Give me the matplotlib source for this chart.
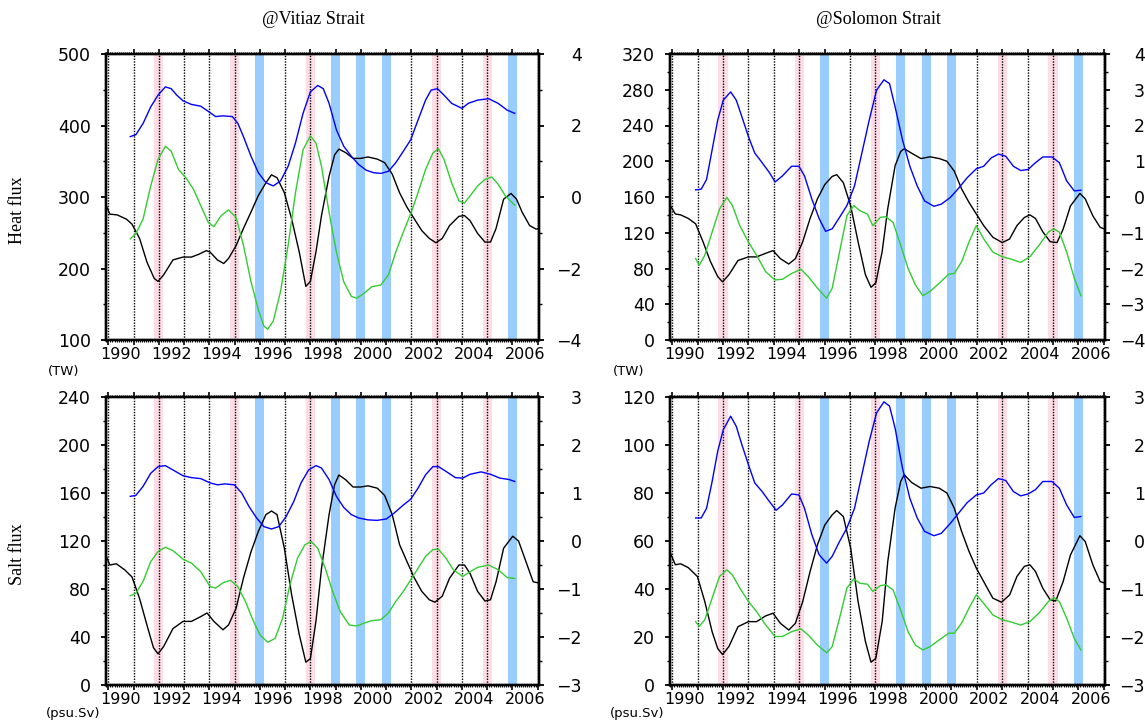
import matplotlib
matplotlib.use("Agg")
import matplotlib.pyplot as plt
from matplotlib.ticker import MultipleLocator, FixedLocator

# ---------------- data ----------------
mark_years = list(range(1990, 2008))
el_nino_years = [1992, 1995, 1998, 2003, 2005]
la_nina_years = [1996, 1999, 2000, 2001, 2006]
year_labels = ["1990", "1992", "1994", "1996", "1998", "2000", "2002", "2004", "2006"]
year_label_pos = [1990.5, 1992.5, 1994.5, 1996.5, 1998.5, 2000.5, 2002.5, 2004.5, 2006.5]

# Vitiaz heat flux (TW), left axis
vit_heat_t = [1989.92, 1990.06, 1990.35, 1990.72, 1990.94, 1991.24, 1991.53, 1991.82, 1991.97, 1992.19,
              1992.56, 1992.96, 1993.29, 1993.59, 1993.88, 1994.03, 1994.32, 1994.57, 1994.76, 1995.06,
              1995.35, 1995.65, 1995.94, 1996.24, 1996.46, 1996.68, 1996.97, 1997.26, 1997.56, 1997.82,
              1998.0, 1998.22, 1998.44, 1998.74, 1998.96, 1999.13, 1999.40, 1999.69, 1999.99, 2000.28,
              2000.65, 2000.94, 2001.24, 2001.53, 2001.82, 2002.12, 2002.41, 2002.71, 2002.97, 2003.22,
              2003.51, 2003.88, 2004.10, 2004.32, 2004.62, 2004.91, 2005.13, 2005.35, 2005.65, 2005.94,
              2006.16, 2006.38, 2006.68, 2006.94, 2007.04]
vit_heat = [288, 276, 275, 269, 262, 242, 209, 186, 182, 191,
            212, 216, 216, 220, 225, 223, 212, 207, 214, 232,
            256, 279, 302, 320, 331, 327, 306, 269, 223, 175,
            182, 223, 274, 329, 359, 367, 362, 354, 354, 356,
            353, 348, 332, 306, 286, 269, 253, 242, 236, 242,
            260, 273, 274, 267, 249, 237, 237, 256, 297, 305,
            297, 279, 260, 255, 256]

# Vitiaz index curves (right axis)
vit_heat_blue_t = [1990.87, 1991.09, 1991.38, 1991.68, 1991.97, 1992.26, 1992.49, 1992.71, 1992.96, 1993.29,
                   1993.66, 1993.97, 1994.25, 1994.54, 1994.91, 1995.13, 1995.35, 1995.65, 1995.94, 1996.24,
                   1996.53, 1996.82, 1997.12, 1997.41, 1997.71, 1998.0, 1998.29, 1998.51, 1998.74, 1999.03,
                   1999.32, 1999.62, 1999.91, 2000.21, 2000.50, 2000.79, 2001.09, 2001.38, 2001.68, 2001.97,
                   2002.26, 2002.56, 2002.78, 2003.03, 2003.29, 2003.59, 2004.0, 2004.25, 2004.62, 2005.06,
                   2005.43, 2005.79, 2006.09]
vit_heat_blue = [1.69, 1.74, 2.06, 2.52, 2.85, 3.08, 3.03, 2.85, 2.69, 2.59,
                 2.54, 2.39, 2.25, 2.27, 2.25, 2.06, 1.69, 1.14, 0.68, 0.40,
                 0.31, 0.45, 0.86, 1.51, 2.34, 2.94, 3.12, 3.03, 2.62, 1.88,
                 1.42, 1.14, 0.91, 0.75, 0.68, 0.66, 0.72, 0.96, 1.28, 1.60,
                 2.15, 2.71, 2.99, 3.03, 2.85, 2.62, 2.48, 2.62, 2.71, 2.75,
                 2.62, 2.43, 2.34]
vit_heat_green_t = [1990.87, 1991.09, 1991.38, 1991.68, 1991.97, 1992.26, 1992.49, 1992.78, 1993.07, 1993.37,
                    1993.66, 1993.96, 1994.18, 1994.47, 1994.76, 1995.06, 1995.35, 1995.65, 1995.94, 1996.16,
                    1996.31, 1996.53, 1996.82, 1997.12, 1997.41, 1997.71, 1998.0, 1998.22, 1998.44, 1998.74,
                    1999.03, 1999.32, 1999.62, 1999.84, 2000.13, 2000.43, 2000.79, 2001.09, 2001.38, 2001.68,
                    2001.97, 2002.26, 2002.56, 2002.85, 2003.07, 2003.29, 2003.59, 2003.88, 2004.10, 2004.32,
                    2004.62, 2004.91, 2005.18, 2005.43, 2005.72, 2006.09]
vit_heat_green = [-1.17, -1.03, -0.61, 0.31, 1.05, 1.42, 1.28, 0.77, 0.54, 0.22,
                  -0.24, -0.71, -0.83, -0.52, -0.36, -0.57, -1.35, -2.37, -3.15, -3.61,
                  -3.70, -3.47, -2.64, -1.35, 0.12, 1.32, 1.71, 1.51, 0.86, -0.43,
                  -1.54, -2.37, -2.78, -2.83, -2.69, -2.51, -2.46, -2.18, -1.54, -0.98,
                  -0.47, 0.12, 0.77, 1.23, 1.35, 1.05, 0.40, -0.11, -0.17, 0.03,
                  0.31, 0.49, 0.56, 0.36, 0.03, -0.23]

# Vitiaz salt flux (psu.Sv)
vit_salt_t = [1989.91, 1990.06, 1990.32, 1990.65, 1990.94, 1991.24, 1991.53, 1991.79, 1991.97, 1992.19,
              1992.56, 1992.96, 1993.29, 1993.66, 1993.91, 1994.18, 1994.54, 1994.76, 1995.06, 1995.35,
              1995.65, 1995.94, 1996.24, 1996.46, 1996.68, 1996.97, 1997.26, 1997.56, 1997.82, 1998.0,
              1998.22, 1998.44, 1998.74, 1998.96, 1999.13, 1999.40, 1999.69, 1999.99, 2000.28, 2000.65,
              2000.94, 2001.24, 2001.53, 2001.82, 2002.12, 2002.41, 2002.71, 2002.93, 2003.22, 2003.51,
              2003.88, 2004.10, 2004.32, 2004.62, 2004.91, 2005.13, 2005.35, 2005.65, 2006.01, 2006.24,
              2006.53, 2006.82, 2007.04]
vit_salt = [108, 100, 101, 96, 90, 72, 50, 31, 26, 32,
            47, 53, 53, 57, 60, 53, 46, 50, 64, 89,
            111, 128, 142, 145, 142, 114, 75, 42, 19, 22,
            53, 97, 142, 167, 175, 171, 165, 165, 166, 164,
            158, 142, 117, 103, 89, 78, 71, 69, 74, 89,
            100, 100, 93, 78, 70, 71, 86, 114, 124, 120,
            103, 86, 85]
vit_salt_blue_t = [1990.87, 1991.09, 1991.38, 1991.68, 1991.97, 1992.26, 1992.56, 1992.96, 1993.29, 1993.66,
                   1994.03, 1994.32, 1994.62, 1994.99, 1995.28, 1995.57, 1995.87, 1996.16, 1996.46, 1996.75,
                   1997.04, 1997.34, 1997.63, 1997.93, 1998.22, 1998.44, 1998.74, 1999.03, 1999.32, 1999.62,
                   1999.91, 2000.28, 2000.65, 2001.01, 2001.31, 2001.68, 2001.97, 2002.26, 2002.56, 2002.85,
                   2003.07, 2003.37, 2003.74, 2004.03, 2004.32, 2004.76, 2005.13, 2005.50, 2005.87, 2006.09]
vit_salt_blue = [0.93, 0.95, 1.14, 1.41, 1.55, 1.57, 1.48, 1.36, 1.32, 1.30,
                 1.21, 1.17, 1.19, 1.17, 1.00, 0.72, 0.48, 0.30, 0.25, 0.30,
                 0.51, 0.82, 1.21, 1.48, 1.57, 1.52, 1.28, 0.93, 0.70, 0.55,
                 0.48, 0.44, 0.43, 0.46, 0.58, 0.75, 0.87, 1.10, 1.38, 1.55,
                 1.55, 1.45, 1.32, 1.31, 1.39, 1.44, 1.39, 1.31, 1.28, 1.24]
vit_salt_green_t = [1990.87, 1991.09, 1991.38, 1991.68, 1991.97, 1992.26, 1992.56, 1992.96, 1993.29, 1993.66,
                    1994.03, 1994.25, 1994.54, 1994.84, 1995.13, 1995.43, 1995.72, 1996.01, 1996.31, 1996.60,
                    1996.90, 1997.19, 1997.49, 1997.78, 1998.03, 1998.29, 1998.59, 1998.88, 1999.18, 1999.54,
                    1999.84, 2000.13, 2000.43, 2000.79, 2001.09, 2001.38, 2001.68, 2001.97, 2002.26, 2002.56,
                    2002.85, 2003.07, 2003.37, 2003.66, 2004.03, 2004.32, 2004.62, 2005.06, 2005.43, 2005.79,
                    2006.09]
vit_salt_green = [-1.14, -1.09, -0.84, -0.43, -0.22, -0.13, -0.20, -0.38, -0.46, -0.64,
                  -0.95, -0.98, -0.87, -0.82, -0.95, -1.26, -1.64, -1.96, -2.11, -2.03,
                  -1.61, -0.91, -0.36, -0.08, -0.01, -0.15, -0.57, -1.05, -1.47, -1.75,
                  -1.77, -1.71, -1.66, -1.64, -1.50, -1.26, -1.05, -0.81, -0.57, -0.32,
                  -0.18, -0.17, -0.36, -0.60, -0.74, -0.64, -0.55, -0.50, -0.60, -0.76,
                  -0.78]

# Solomon heat flux
sol_heat_t = [1989.93, 1990.12, 1990.33, 1990.63, 1990.92, 1991.21, 1991.50, 1991.79, 1991.98, 1992.23,
              1992.59, 1993.0, 1993.32, 1993.68, 1993.97, 1994.26, 1994.59, 1994.85, 1995.14, 1995.43,
              1995.72, 1996.01, 1996.30, 1996.48, 1996.74, 1997.03, 1997.32, 1997.61, 1997.83, 1998.02,
              1998.27, 1998.49, 1998.78, 1999.00, 1999.14, 1999.43, 1999.80, 2000.16, 2000.52, 2000.82,
              2001.11, 2001.40, 2001.69, 2001.98, 2002.27, 2002.63, 2003.0, 2003.29, 2003.58, 2003.87,
              2004.09, 2004.31, 2004.60, 2004.89, 2005.16, 2005.40, 2005.69, 2006.06, 2006.27, 2006.57,
              2006.86, 2007.05]
sol_heat = [150, 141, 140, 136, 130, 110, 88, 71, 65, 73,
            89, 93, 93, 97, 100, 91, 85, 91, 110, 136,
            158, 174, 183, 185, 176, 150, 110, 73, 59, 64,
            99, 147, 195, 211, 214, 209, 203, 205, 203, 200,
            189, 169, 154, 141, 128, 115, 109, 113, 128, 137,
            140, 136, 121, 110, 109, 124, 150, 164, 158, 139,
            126, 124]
sol_blue_t = [1990.92, 1991.14, 1991.35, 1991.57, 1991.79, 1992.01, 1992.30, 1992.52, 1992.74, 1993.0,
              1993.25, 1993.54, 1993.83, 1994.05, 1994.34, 1994.70, 1994.99, 1995.21, 1995.50, 1995.79,
              1996.04, 1996.30, 1996.59, 1996.88, 1997.18, 1997.47, 1997.76, 1998.05, 1998.34, 1998.56,
              1998.78, 1999.07, 1999.36, 1999.65, 1999.94, 2000.31, 2000.60, 2000.96, 2001.25, 2001.62,
              2001.98, 2002.27, 2002.56, 2002.85, 2003.14, 2003.44, 2003.73, 2004.02, 2004.31, 2004.60,
              2004.96, 2005.25, 2005.54, 2005.84, 2006.10]
sol_heat_blue = [0.20, 0.22, 0.49, 1.32, 2.15, 2.71, 2.94, 2.71, 2.25, 1.69,
                 1.23, 0.96, 0.68, 0.42, 0.59, 0.86, 0.86, 0.59, -0.06, -0.61,
                 -0.96, -0.89, -0.57, -0.24, 0.31, 1.23, 2.15, 2.99, 3.28, 3.17,
                 2.52, 1.60, 0.86, 0.31, -0.11, -0.26, -0.20, -0.01, 0.22, 0.54,
                 0.79, 0.86, 1.09, 1.20, 1.14, 0.86, 0.74, 0.77, 0.96, 1.12,
                 1.12, 0.96, 0.45, 0.17, 0.19]
sol_green_t = [1990.92, 1991.06, 1991.28, 1991.57, 1991.86, 1992.15, 1992.37, 1992.66, 1993.0, 1993.32,
               1993.68, 1994.05, 1994.34, 1994.70, 1995.07, 1995.36, 1995.72, 1996.08, 1996.30, 1996.59,
               1996.88, 1997.15, 1997.39, 1997.69, 1997.90, 1998.20, 1998.41, 1998.70, 1999.0, 1999.29,
               1999.58, 1999.87, 2000.16, 2000.52, 2000.89, 2001.11, 2001.40, 2001.69, 2001.98, 2002.27,
               2002.63, 2003.0, 2003.36, 2003.73, 2004.09, 2004.45, 2004.82, 2005.03, 2005.25, 2005.54,
               2005.84, 2006.10]
sol_heat_green = [-1.72, -1.91, -1.63, -0.98, -0.34, -0.01, -0.24, -0.80, -1.26, -1.63,
                  -2.09, -2.32, -2.30, -2.14, -2.02, -2.23, -2.55, -2.83, -2.55, -1.54,
                  -0.52, -0.24, -0.38, -0.48, -0.80, -0.57, -0.55, -0.71, -1.35, -2.00,
                  -2.46, -2.76, -2.64, -2.41, -2.16, -2.14, -1.81, -1.26, -0.80, -1.17,
                  -1.54, -1.67, -1.74, -1.83, -1.67, -1.35, -0.98, -0.89, -0.98, -1.54,
                  -2.27, -2.76]

# Solomon salt flux
sol_salt_t = [1989.93, 1990.12, 1990.33, 1990.63, 1990.99, 1991.28, 1991.57, 1991.79, 1991.98, 1992.23,
              1992.59, 1993.0, 1993.32, 1993.68, 1993.97, 1994.26, 1994.59, 1994.85, 1995.14, 1995.43,
              1995.72, 1996.01, 1996.30, 1996.48, 1996.74, 1997.03, 1997.32, 1997.61, 1997.83, 1998.02,
              1998.27, 1998.49, 1998.78, 1999.0, 1999.14, 1999.43, 1999.80, 2000.16, 2000.52, 2000.82,
              2001.11, 2001.40, 2001.69, 2001.98, 2002.27, 2002.63, 2002.97, 2003.29, 2003.58, 2003.87,
              2004.09, 2004.31, 2004.60, 2004.89, 2005.11, 2005.40, 2005.69, 2006.06, 2006.27, 2006.57,
              2006.86, 2007.05]
sol_salt = [54.9, 50.1, 50.5, 48.9, 45.2, 34.8, 22.2, 15.2, 12.7, 16.0,
            24.3, 26.4, 26.4, 28.8, 29.9, 25.7, 22.9, 25.7, 34.8, 47.3,
            58.4, 66.7, 70.9, 72.7, 70.2, 57.0, 34.8, 18.1, 9.5, 11.1,
            26.4, 51.4, 73.7, 84.8, 87.6, 84.4, 82.0, 82.7, 82.0, 80.0,
            73.7, 64.0, 55.7, 48.7, 43.1, 36.2, 34.5, 37.5, 45.2, 49.4,
            50.1, 47.3, 40.3, 35.5, 35.0, 43.1, 54.2, 62.2, 59.8, 50.1,
            43.1, 42.4]
sol_salt_blue_t = [1990.92, 1991.14, 1991.35, 1991.57, 1991.79, 1992.01, 1992.30, 1992.52, 1992.74, 1993.0,
                   1993.25, 1993.54, 1993.83, 1994.09, 1994.34, 1994.70, 1994.99, 1995.21, 1995.50, 1995.79,
                   1996.08, 1996.30, 1996.59, 1996.88, 1997.18, 1997.47, 1997.76, 1998.05, 1998.34, 1998.56,
                   1998.78, 1999.07, 1999.36, 1999.65, 1999.94, 2000.31, 2000.60, 2000.96, 2001.25, 2001.62,
                   2001.98, 2002.27, 2002.56, 2002.85, 2003.14, 2003.44, 2003.73, 2004.02, 2004.31, 2004.60,
                   2004.96, 2005.25, 2005.54, 2005.84, 2006.10]
sol_salt_blue = [0.48, 0.48, 0.68, 1.24, 1.87, 2.32, 2.60, 2.39, 2.01, 1.59,
                 1.21, 1.03, 0.82, 0.64, 0.75, 0.98, 0.96, 0.68, 0.13, -0.29,
                 -0.46, -0.32, -0.01, 0.27, 0.68, 1.38, 2.08, 2.67, 2.90, 2.81,
                 2.35, 1.52, 0.89, 0.48, 0.20, 0.11, 0.16, 0.37, 0.56, 0.80,
                 0.96, 1.00, 1.17, 1.30, 1.26, 1.03, 0.94, 0.98, 1.07, 1.24,
                 1.24, 1.10, 0.75, 0.49, 0.51]
sol_salt_green = [-1.68, -1.78, -1.64, -1.19, -0.74, -0.60, -0.71, -0.98, -1.26, -1.47,
                  -1.75, -1.99, -1.99, -1.89, -1.83, -1.96, -2.17, -2.33, -2.20, -1.61,
                  -0.98, -0.79, -0.88, -0.90, -1.05, -0.93, -0.91, -1.02, -1.44, -1.89,
                  -2.17, -2.27, -2.20, -2.06, -1.92, -1.92, -1.71, -1.40, -1.12, -1.30,
                  -1.54, -1.64, -1.69, -1.75, -1.68, -1.50, -1.26, -1.18, -1.26, -1.61,
                  -2.03, -2.27]

# ---------------- styling ----------------
W, H = 1145, 724
PINK = "#ffdde6"
LBLUE = "#99ccff"
GREEN = "#33cc33"
BLUE = "#0000ff"
TICKFONT = "DejaVu Sans"

fig = plt.figure(figsize=(W / 100, H / 100), dpi=100)


def rect(l, t, r, b):
    return [l / W, 1 - b / H, (r - l) / W, (b - t) / H]


def minus(v):
    return ("\u2212" + str(abs(v))) if v < 0 else str(v)


def panel(r, ylim, ymaj, ymin, y2lim, y2maj, y2min, y2pad,
          bt, bv, blt, blv, gt, gv):
    ax = fig.add_axes(r)
    ax.set_xlim(1989.91, 2007.05)
    ax.set_ylim(*ylim)
    for y in el_nino_years:
        ax.axvspan(y - 0.18, y + 0.18, color=PINK, lw=0, zorder=0)
    for y in mark_years:
        ax.axvline(y, color="black", ls=(0, (1.0, 1.0)), lw=1.0, zorder=1)
    for y in la_nina_years:
        ax.axvspan(y - 0.18, y + 0.18, color=LBLUE, lw=0, zorder=2)
    ax.plot(bt, bv, color="black", lw=1.0, zorder=4)

    # x ticks
    ax.xaxis.set_major_locator(FixedLocator(mark_years))
    ax.xaxis.set_minor_locator(MultipleLocator(1 / 12))
    ax.tick_params(axis="x", which="major", direction="out", length=3.5, width=1.2,
                   top=True, bottom=True, labelbottom=False)
    ax.tick_params(axis="x", which="minor", direction="out", length=1.6, width=0.8,
                   top=True, bottom=True)
    sec = ax.secondary_xaxis("bottom")
    sec.set_xticks(year_label_pos)
    sec.set_xticklabels(year_labels, family=TICKFONT, fontsize=11.5)
    sec.tick_params(length=0, pad=5)
    sec.spines["bottom"].set_visible(False)

    # left y
    yt = list(range(ylim[0], ylim[1] + 1, ymaj))
    ax.set_yticks(yt)
    ax.set_yticklabels([str(v) for v in yt], family=TICKFONT, fontsize=12.5)
    ax.yaxis.set_minor_locator(MultipleLocator(ymin))
    ax.tick_params(axis="y", which="major", direction="out", length=3.8, width=1.3,
                   left=True, right=False, pad=7)
    ax.tick_params(axis="y", which="minor", direction="out", length=2.2, width=1.0,
                   left=True, right=False)
    for s in ax.spines.values():
        s.set_linewidth(1.7)

    # right y
    ax2 = ax.twinx()
    ax2.set_ylim(*y2lim)
    y2t = list(range(y2lim[0], y2lim[1] + 1, y2maj))
    ax2.set_yticks(y2t)
    ax2.set_yticklabels([minus(v) for v in y2t], family=TICKFONT, fontsize=12.5)
    ax2.yaxis.set_minor_locator(MultipleLocator(y2min))
    ax2.tick_params(axis="y", which="major", direction="out", length=3.8, width=1.3,
                    right=True, left=False, pad=y2pad)
    ax2.tick_params(axis="y", which="minor", direction="out", length=2.2, width=1.0,
                    right=True, left=False)
    for lbl in ax2.get_yticklabels():
        lbl.set_ha("right")
    for s in ax2.spines.values():
        s.set_linewidth(1.7)
    ax2.plot(blt, blv, color=BLUE, lw=1.0, zorder=4)
    ax2.plot(gt, gv, color=GREEN, lw=1.0, zorder=4)
    return ax, ax2


panel(rect(106, 54, 539, 340), (100, 500), 100, 50, (-4, 4), 2, 1, 27,
      vit_heat_t, vit_heat, vit_heat_blue_t, vit_heat_blue, vit_heat_green_t, vit_heat_green)
panel(rect(106, 397, 539, 685), (0, 240), 40, 20, (-3, 3), 1, 0.5, 27,
      vit_salt_t, vit_salt, vit_salt_blue_t, vit_salt_blue, vit_salt_green_t, vit_salt_green)
panel(rect(670, 54, 1105, 340), (0, 320), 40, 20, (-4, 4), 1, 0.5, 25,
      sol_heat_t, sol_heat, sol_blue_t, sol_heat_blue, sol_green_t, sol_heat_green)
panel(rect(670, 397, 1105, 685), (0, 120), 20, 10, (-3, 3), 1, 0.5, 25,
      sol_salt_t, sol_salt, sol_salt_blue_t, sol_salt_blue, sol_green_t, sol_salt_green)

SERIF = "Liberation Serif"
fig.text(313 / W, 1 - 19 / H, "@Vitiaz Strait", ha="center", va="center", family=SERIF, fontsize=13)
fig.text(878 / W, 1 - 19 / H, "@Solomon Strait", ha="center", va="center", family=SERIF, fontsize=13)
fig.text(18 / W, 1 - 210 / H, "Heat flux", ha="center", va="center", rotation=90, family=SERIF, fontsize=13)
fig.text(18 / W, 1 - 554 / H, "Salt flux", ha="center", va="center", rotation=90, family=SERIF, fontsize=13)
fig.text(64 / W, 1 - 372 / H, "(TW)", ha="center", va="center", family=TICKFONT, fontsize=9.5)
fig.text(629 / W, 1 - 372 / H, "(TW)", ha="center", va="center", family=TICKFONT, fontsize=9.5)
fig.text(73 / W, 1 - 714 / H, "(psu.Sv)", ha="center", va="center", family=TICKFONT, fontsize=9.5)
fig.text(637 / W, 1 - 714 / H, "(psu.Sv)", ha="center", va="center", family=TICKFONT, fontsize=9.5)

fig.savefig("out.png", dpi=100)
